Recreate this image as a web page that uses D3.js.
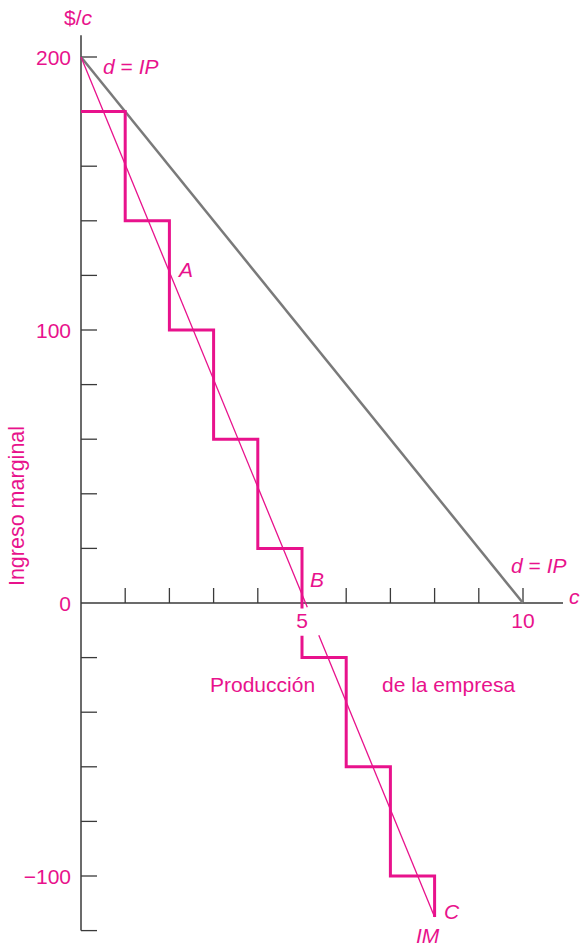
<!DOCTYPE html>
<html><head><meta charset="utf-8">
<script src="https://cdn.jsdelivr.net/npm/d3@7"></script>
<style>body{margin:0;background:#fff}svg text{font-family:"Liberation Sans",Arial,sans-serif}</style>
</head><body>
<svg id="c" width="582" height="947"></svg>
<script>
// Data
const quantities = [0,1,2,3,4,5,6,7,8];
const marginalRevenue = [180,140,100,60,20,-20,-60,-100];
const demandLine = [{q:0,p:200},{q:10,p:0}];
const imLine = [{q:0,p:200},{q:8,p:-115}];
const yTickValues = d3.range(-120,201,20);
const yTickLabels = [200,100,0,-100];
const xTickValues = [1,2,3,4,5,6,7,8,9,10];
const xTickLabels = [5,10];

const pink = "#e8128c", grey="#7a7a7a", axisC="#3a3a3a";
const FS = 21;
const svg = d3.select("#c");
const x = d3.scaleLinear().domain([0,10]).range([81,523]);
const y = d3.scaleLinear().domain([0,200]).range([603,57]);

// axes
svg.append("line").attr("x1",x(0)).attr("x2",x(0)).attr("y1",y(208)).attr("y2",y(-120))
  .attr("stroke",axisC).attr("stroke-width",1.5);
svg.append("line").attr("x1",x(0)).attr("x2",563).attr("y1",y(0)).attr("y2",y(0))
  .attr("stroke",axisC).attr("stroke-width",1.5);
svg.selectAll(".yt").data(yTickValues.filter(v=>v!==0)).enter().append("line")
  .attr("x1",x(0)).attr("x2",x(0)+16).attr("y1",d=>y(d)).attr("y2",d=>y(d))
  .attr("stroke",axisC).attr("stroke-width",1.3);
svg.selectAll(".xt").data(xTickValues).enter().append("line")
  .attr("x1",d=>x(d)).attr("x2",d=>x(d)).attr("y1",y(0)).attr("y2",y(0)-15)
  .attr("stroke",axisC).attr("stroke-width",1.3);

svg.selectAll(".yl").data(yTickLabels).enter().append("text")
  .attr("x",71).attr("y",d=>y(d)+8).attr("text-anchor","end").attr("fill",pink)
  .attr("font-size",FS).text(d=>d<0?"\u2212"+Math.abs(d):d);
svg.selectAll(".xl").data(xTickLabels).enter().append("text")
  .attr("x",d=>x(d)).attr("y",628).attr("text-anchor","middle").attr("fill",pink)
  .attr("font-size",FS).text(d=>d);

// demand line
svg.append("path").datum(demandLine)
  .attr("d",d3.line().x(d=>x(d.q)).y(d=>y(d.p)))
  .attr("fill","none").attr("stroke",grey).attr("stroke-width",2.5);

// step marginal revenue
const pts=[];
marginalRevenue.forEach((v,i)=>{pts.push([quantities[i],v]);pts.push([quantities[i+1],v]);});
pts.push([8,-115]);
const seg1 = pts.filter(p=>p[0]<5 || (p[0]===5 && p[1]===20)); seg1.push([5,-2]);
const seg2 = [[5,-12]].concat(pts.filter(p=>p[0]>5 || (p[0]===5 && p[1]===-20)));
const ln = d3.line().x(d=>x(d[0])).y(d=>y(d[1]));
[seg1,seg2].forEach(s=>svg.append("path").attr("d",ln(s)).attr("fill","none")
  .attr("stroke",pink).attr("stroke-width",3).attr("stroke-linejoin","miter"));

// IM thin line, with gap
const im = d3.scaleLinear().domain([imLine[0].q,imLine[1].q]).range([imLine[0].p,imLine[1].p]);
[[0,5.12],[5.38,8]].forEach(([a,b])=>svg.append("line")
  .attr("x1",x(a)).attr("y1",y(im(a))).attr("x2",x(b)).attr("y2",y(im(b)))
  .attr("stroke",pink).attr("stroke-width",1.3));

// labels
function t(xp,yp,txt,opts={}){
  const e=svg.append("text").attr("x",xp).attr("y",yp).attr("fill",pink).attr("font-size",opts.fs||FS);
  if(opts.anchor)e.attr("text-anchor",opts.anchor);
  if(opts.italic)e.attr("font-style","italic");
  if(opts.rot)e.attr("transform",opts.rot);
  return e.text(txt);
}
const dol=svg.append("text").attr("x",64).attr("y",25).attr("fill",pink).attr("font-size",FS);
dol.append("tspan").text("$/");dol.append("tspan").attr("font-style","italic").text("c");
function dip(xp,yp){
  const e=svg.append("text").attr("x",xp).attr("y",yp).attr("fill",pink).attr("font-size",FS);
  e.append("tspan").attr("font-style","italic").text("d");
  e.append("tspan").text(" = ");
  e.append("tspan").attr("font-style","italic").text("IP");
}
dip(103,74); dip(511,573);
t(179,277,"A",{italic:true});
t(310,587,"B",{italic:true});
t(569,604,"c",{italic:true});
t(444,919,"C",{italic:true});
t(416,943,"IM",{italic:true});
t(210,692,"Producción");
t(382,692,"de la empresa");
t(0,0,"Ingreso marginal",{anchor:"middle",rot:"translate(24,506) rotate(-90)",fs:21.5});
</script>
</body></html>
